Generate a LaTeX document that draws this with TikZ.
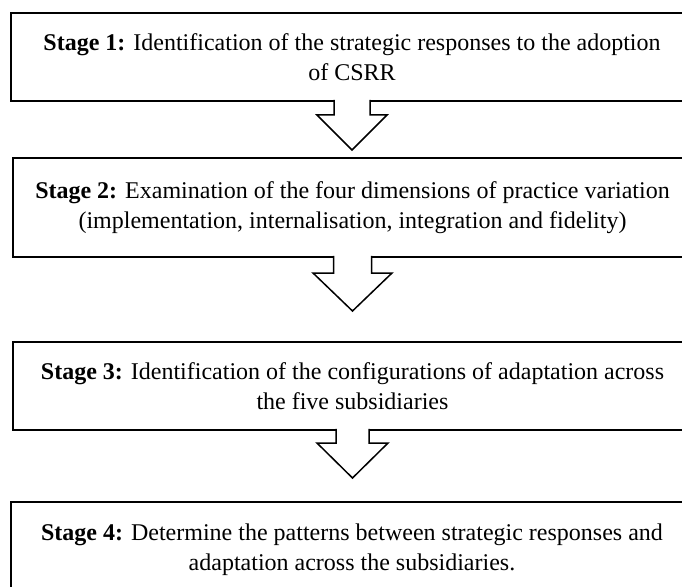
\documentclass[tikz,border=0pt]{standalone}
\usepackage{fontspec}
\setmainfont{Liberation Serif}
\usetikzlibrary{calc}

\tikzset{
  stagebox/.style={draw, line width=2.2bp, outer sep=0pt, inner sep=0pt,
    align=center, font=\fontsize{24bp}{30bp}\selectfont},
  arrowline/.style={line width=1.5bp, line join=miter},
}

% Hollow block arrow hanging from a box's lower edge:
% #1 anchor, #2 shaft half-width, #3 shaft length, #4 head half-width, #5 total length
\newcommand\blockarrow[5]{%
  \fill[white] ($(#1)+(-#2,-3)$) -- ($(#1)+(-#2,#3)$) -- ($(#1)+(-#4,#3)$)
    -- ($(#1)+(0,#5)$) -- ($(#1)+(#4,#3)$) -- ($(#1)+(#2,#3)$)
    -- ($(#1)+(#2,-3)$) -- cycle;
  \draw[arrowline] ($(#1)+(-#2,-1.1)$) -- ($(#1)+(-#2,#3)$) -- ($(#1)+(-#4,#3)$)
    -- ($(#1)+(0,#5)$) -- ($(#1)+(#4,#3)$) -- ($(#1)+(#2,#3)$)
    -- ($(#1)+(#2,-1.1)$);
}

\begin{document}
\begin{tikzpicture}[x=1bp, y=-1bp]
  \useasboundingbox (0,0) rectangle (682,587);
  \clip (0,0) rectangle (682,587);

  \node[stagebox, minimum width=682bp, minimum height=88bp] (s1) at (352,57)
    {\textbf{Stage 1:} Identification of the strategic responses to the adoption\\of CSRR};
  \node[stagebox, minimum width=679bp, minimum height=99bp] (s2) at (352.5,207.5)
    {\textbf{Stage 2:} Examination of the four dimensions of practice variation\\(implementation, internalisation, integration and fidelity)};
  \node[stagebox, minimum width=679bp, minimum height=88bp] (s3) at (352.5,386)
    {\textbf{Stage 3:} Identification of the configurations of adaptation across\\the five subsidiaries};
  \node[stagebox, minimum width=682bp, minimum height=96bp] (s4) at (352,550)
    {\textbf{Stage 4:} Determine the patterns between strategic responses and\\adaptation across the subsidiaries.};

  \blockarrow{s1.south}{18}{14}{35}{49}
  \blockarrow{s2.south}{19}{16}{39.5}{54}
  \blockarrow{s3.south}{16.5}{13}{35.5}{48}
\end{tikzpicture}
\end{document}
